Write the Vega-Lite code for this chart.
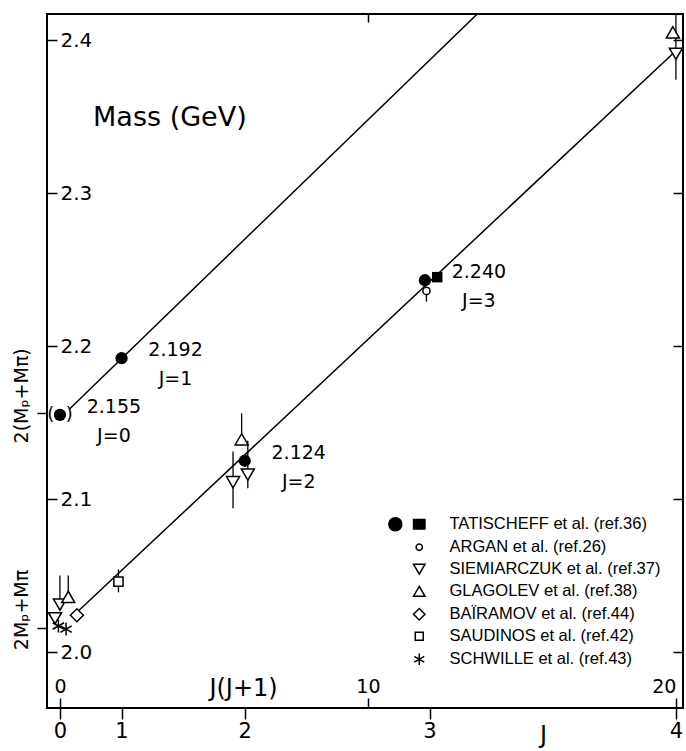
{
  "$schema": "https://vega.github.io/schema/vega-lite/v6.json",
  "width": 636,
  "height": 694,
  "autosize": {"type": "none"},
  "padding": {"left": 47, "top": 14, "right": 3, "bottom": 43},
  "background": "white",
  "config": {
    "view": {"stroke": "black", "strokeWidth": 2},
    "font": "DejaVu Sans",
    "axis": {"grid": false, "domain": false, "tickColor": "black", "tickWidth": 1.5, "labelColor": "black", "titleColor": "black", "labelFont": "DejaVu Sans", "titleFont": "DejaVu Sans", "titleFontWeight": "normal", "labelFlush": false, "labelOverlap": false},
    "legend": {"orient": "none", "legendX": 364, "legendY": 502, "title": null, "symbolSize": 130, "symbolStrokeWidth": 1.5, "labelFont": "Liberation Sans", "labelFontSize": 16.5, "labelColor": "black", "labelOffset": 22, "rowPadding": 5, "labelLimit": 400}
  },
  "datasets": {
    "lines": [
      {"line": "upper", "jj": 0.32, "mass": 2.159},
      {"line": "upper", "jj": 13.6, "mass": 2.418},
      {"line": "lower", "jj": 0.5, "mass": 2.025},
      {"line": "lower", "jj": 20.0, "mass": 2.393}
    ],
    "errors": [
      {"jj": 0.0, "lo": 2.031, "hi": 2.050},
      {"jj": 0.27, "lo": 2.036, "hi": 2.050},
      {"jj": 5.62, "lo": 2.094, "hi": 2.131},
      {"jj": 6.1, "lo": 2.107, "hi": 2.138},
      {"jj": 5.9, "lo": 2.139, "hi": 2.156},
      {"jj": 1.9, "lo": 2.039, "hi": 2.054},
      {"jj": 20.0, "lo": 2.374, "hi": 2.417},
      {"jj": 11.9, "lo": 2.229, "hi": 2.236}
    ],
    "points": [
      {"series": "ARGAN  et al. (ref.26)", "jj": 11.9, "mass": 2.236},
      {"series": "SIEMIARCZUK et al. (ref.37)", "jj": 0.0, "mass": 2.031},
      {"series": "SIEMIARCZUK et al. (ref.37)", "jj": -0.16, "mass": 2.022},
      {"series": "SIEMIARCZUK et al. (ref.37)", "jj": 5.62, "mass": 2.111},
      {"series": "SIEMIARCZUK et al. (ref.37)", "jj": 6.1, "mass": 2.116},
      {"series": "SIEMIARCZUK et al. (ref.37)", "jj": 20.0, "mass": 2.391},
      {"series": "GLAGOLEV et al. (ref.38)", "jj": 0.27, "mass": 2.036},
      {"series": "GLAGOLEV et al. (ref.38)", "jj": 5.9, "mass": 2.139},
      {"series": "GLAGOLEV et al. (ref.38)", "jj": 19.9, "mass": 2.405},
      {"series": "BAÏRAMOV et al. (ref.44)", "jj": 0.55, "mass": 2.024},
      {"series": "SAUDINOS et al. (ref.42)", "jj": 1.9, "mass": 2.046},
      {"series": "SCHWILLE et al. (ref.43)", "jj": 0.2, "mass": 2.015},
      {"series": "SCHWILLE et al. (ref.43)", "jj": -0.05, "mass": 2.017}
    ],
    "tatCircles": [
      {"J": 0, "jj": 0, "mass": 2.155, "label": "2.155", "jlabel": "J=0"},
      {"J": 1, "jj": 2, "mass": 2.192, "label": "2.192", "jlabel": "J=1"},
      {"J": 2, "jj": 6, "mass": 2.125, "label": "2.124", "jlabel": "J=2"},
      {"J": 3, "jj": 11.85, "mass": 2.243, "label": "2.240", "jlabel": "J=3"}
    ],
    "tatSquares": [
      {"J": 3, "jj": 12.25, "mass": 2.245}
    ],
    "caption": [
      {"text": "Mass (GeV)", "jj": 3.57, "mass": 2.349}
    ]
  },
  "resolve": {"axis": {"x": "independent", "y": "independent"}},
  "layer": [
    {
      "data": {"name": "lines"},
      "mark": {"type": "line", "stroke": "black", "strokeWidth": 1.5, "clip": true},
      "encoding": {
        "x": {"field": "jj", "type": "quantitative", "scale": {"domain": [-0.42, 20.23], "nice": false, "zero": false},
          "axis": {"orient": "bottom", "values": [0, 2, 6, 12, 20], "labelExpr": "datum.value == 0 ? '0' : datum.value == 2 ? '1' : datum.value == 6 ? '2' : datum.value == 12 ? '3' : '4'", "tickSize": 11, "labelPadding": 1, "labelFontSize": 21, "title": "J", "titleFontSize": 24, "titleX": 496, "titleY": 27, "titleBaseline": "middle", "titleAlign": "center"}},
        "y": {"field": "mass", "type": "quantitative", "scale": {"domain": [1.9634, 2.417], "nice": false, "zero": false},
          "axis": {"orient": "left", "values": [2.0, 2.1, 2.2, 2.3, 2.4], "format": ".1f", "tickSize": -10, "labelAlign": "left", "labelBaseline": "middle", "labelPadding": -3, "labelFontSize": 20, "title": null}},
        "detail": {"field": "line", "type": "nominal"}
      }
    },
    {
      "data": {"name": "errors"},
      "mark": {"type": "rule", "stroke": "black", "strokeWidth": 1.3, "clip": true},
      "encoding": {
        "x": {"field": "jj", "type": "quantitative", "axis": {"orient": "top", "values": [10], "labels": false, "tickSize": -8, "title": null}},
        "y": {"field": "lo", "type": "quantitative", "axis": {"orient": "right", "values": [2.0, 2.1, 2.2, 2.3, 2.4], "labels": false, "tickSize": -10, "title": null}},
        "y2": {"field": "hi"}
      }
    },
    {
      "data": {"name": "points"},
      "mark": {"type": "point", "filled": true, "size": 170, "strokeWidth": 1.5, "opacity": 1},
      "encoding": {
        "x": {"field": "jj", "type": "quantitative",
          "axis": {"orient": "top", "offset": -694, "values": [0, 10, 20], "tickSize": 10, "labelPadding": 2, "labelFontSize": 19, "labelAlign": {"condition": {"test": "datum.value == 20", "value": "right"}, "value": "center"}, "title": "J(J+1)", "titleFontSize": 24, "titleX": 196, "titleY": -20, "titleBaseline": "middle", "titleAlign": "center"}},
        "y": {"field": "mass", "type": "quantitative",
          "axis": {"orient": "left", "values": [2.016, 2.156], "labelExpr": "datum.value < 2.1 ? '2Mₚ+Mπ' : '2(Mₚ+Mπ)'", "tickSize": 10, "labelAngle": -90, "labelAlign": "center", "labelBaseline": "bottom", "labelPadding": 6, "labelOffset": -18, "labelFontSize": 19, "title": null}},
        "shape": {"field": "series", "type": "nominal",
          "scale": {"domain": ["TATISCHEFF et al. (ref.36)", "ARGAN  et al. (ref.26)", "SIEMIARCZUK et al. (ref.37)", "GLAGOLEV et al. (ref.38)", "BAÏRAMOV et al. (ref.44)", "SAUDINOS et al. (ref.42)", "SCHWILLE et al. (ref.43)"],
            "range": ["M-5.34,0A1.14,1.14 0 1,0 -3.06,0A1.14,1.14 0 1,0 -5.34,0Z M-1,-0.85H1V0.85H-1Z", "M-0.55,0A0.55,0.55 0 1,0 0.55,0A0.55,0.55 0 1,0 -0.55,0Z", "triangle-down", "triangle-up", "diamond", "M-0.7,-0.7H0.7V0.7H-0.7Z", "M0,-1V1M-0.87,-0.5L0.87,0.5M-0.87,0.5L0.87,-0.5"]}},
        "fill": {"field": "series", "type": "nominal",
          "scale": {"domain": ["TATISCHEFF et al. (ref.36)", "ARGAN  et al. (ref.26)", "SIEMIARCZUK et al. (ref.37)", "GLAGOLEV et al. (ref.38)", "BAÏRAMOV et al. (ref.44)", "SAUDINOS et al. (ref.42)", "SCHWILLE et al. (ref.43)"],
            "range": ["black", "white", "white", "white", "white", "white", "white"]}},
        "stroke": {"field": "series", "type": "nominal",
          "scale": {"domain": ["TATISCHEFF et al. (ref.36)", "ARGAN  et al. (ref.26)", "SIEMIARCZUK et al. (ref.37)", "GLAGOLEV et al. (ref.38)", "BAÏRAMOV et al. (ref.44)", "SAUDINOS et al. (ref.42)", "SCHWILLE et al. (ref.43)"],
            "range": ["black", "black", "black", "black", "black", "black", "black"]}}
      }
    },
    {
      "data": {"name": "tatCircles"},
      "transform": [{"filter": "datum.J == 0"}],
      "mark": {"type": "text", "text": "(\u00a0\u00a0)", "fontSize": 18, "align": "center", "baseline": "middle", "color": "black"},
      "encoding": {
        "x": {"field": "jj", "type": "quantitative", "axis": null},
        "y": {"field": "mass", "type": "quantitative", "axis": null}
      }
    },
    {
      "data": {"name": "tatCircles"},
      "mark": {"type": "point", "shape": "circle", "filled": true, "size": 150, "color": "black", "opacity": 1},
      "encoding": {
        "x": {"field": "jj", "type": "quantitative", "axis": null},
        "y": {"field": "mass", "type": "quantitative", "axis": null}
      }
    },
    {
      "data": {"name": "tatSquares"},
      "mark": {"type": "point", "shape": "square", "filled": true, "size": 110, "color": "black", "opacity": 1},
      "encoding": {
        "x": {"field": "jj", "type": "quantitative", "axis": null},
        "y": {"field": "mass", "type": "quantitative", "axis": null}
      }
    },
    {
      "data": {"name": "tatCircles"},
      "mark": {"type": "text", "fontSize": 19, "align": "center", "baseline": "middle", "dx": 54, "dy": -8, "color": "black"},
      "encoding": {
        "x": {"field": "jj", "type": "quantitative", "axis": null},
        "y": {"field": "mass", "type": "quantitative", "axis": null},
        "text": {"field": "label"}
      }
    },
    {
      "data": {"name": "tatCircles"},
      "mark": {"type": "text", "fontSize": 19, "align": "center", "baseline": "middle", "dx": 54, "dy": 21, "color": "black"},
      "encoding": {
        "x": {"field": "jj", "type": "quantitative", "axis": null},
        "y": {"field": "mass", "type": "quantitative", "axis": null},
        "text": {"field": "jlabel"}
      }
    },
    {
      "data": {"name": "caption"},
      "mark": {"type": "text", "fontSize": 27, "align": "center", "baseline": "middle", "color": "black"},
      "encoding": {
        "x": {"field": "jj", "type": "quantitative", "axis": null},
        "y": {"field": "mass", "type": "quantitative", "axis": null},
        "text": {"field": "text"}
      }
    }
  ]
}
